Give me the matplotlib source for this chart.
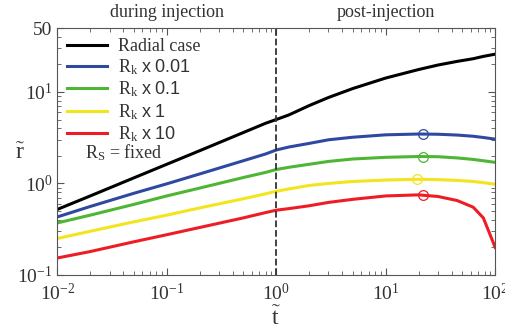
import matplotlib
matplotlib.use('Agg')
import matplotlib.pyplot as plt

# dimensionless time and plume radius
t = [0.01, 0.02, 0.05, 0.1, 0.2, 0.5, 0.8, 1, 1.3, 2, 3, 5, 10, 20, 30, 45, 63, 78, 100]
r_radial = [0.52, 0.73, 1.15, 1.62, 2.28, 3.6, 4.55, 5.0, 5.6, 7.1, 8.7, 10.9, 14.2, 17.6, 19.7, 21.6, 23.1, 24.5, 25.9]
r_k001 = [0.43, 0.56, 0.78, 0.99, 1.27, 1.77, 2.1, 2.32, 2.5, 2.74, 3.0, 3.2, 3.4, 3.47, 3.45, 3.38, 3.28, 3.18, 3.05]
r_k01 = [0.37, 0.45, 0.59, 0.73, 0.89, 1.16, 1.32, 1.42, 1.5, 1.62, 1.74, 1.85, 1.93, 1.97, 1.96, 1.9, 1.83, 1.77, 1.7]
r_k1 = [0.25, 0.30, 0.38, 0.45, 0.54, 0.68, 0.77, 0.82, 0.87, 0.95, 1.0, 1.05, 1.09, 1.11, 1.1, 1.08, 1.05, 1.02, 0.98]
r_k10 = [0.153, 0.18, 0.23, 0.275, 0.33, 0.42, 0.48, 0.51, 0.53, 0.57, 0.62, 0.67, 0.73, 0.75, 0.72, 0.65, 0.55, 0.42, 0.2]

labels = ['Radial case', r'R$_\mathrm{k}$ $\mathsf{x\ 0.01}$', r'R$_\mathrm{k}$ $\mathsf{x\ 0.1}$',
          r'R$_\mathrm{k}$ $\mathsf{x\ 1}$', r'R$_\mathrm{k}$ $\mathsf{x\ 10}$']
colors = ['black', '#3049a0', '#4fb535', '#f2e51e', '#ee1c24']

# circle markers (max plume extent) on the Rk curves
peak_t = [22, 22, 19.5, 22]
peak_r = [3.47, 1.97, 1.11, 0.74]

plt.rcParams['font.family'] = ['Liberation Serif', 'DejaVu Serif']
plt.rcParams['mathtext.fontset'] = 'custom'
plt.rcParams['mathtext.rm'] = 'Liberation Serif'
plt.rcParams['mathtext.it'] = 'Liberation Serif:italic'
plt.rcParams['mathtext.sf'] = 'Liberation Sans'

fig = plt.figure(figsize=(5.05, 3.3), dpi=100)
ax = fig.add_axes([0.1135, 0.167, 0.867, 0.748])

all_r = [r_radial, r_k001, r_k01, r_k1, r_k10]
for rr, lab, c in zip(all_r, labels, colors):
    ax.plot(t, rr, color=c, lw=2.2, label=lab)
for pt, pr, c in zip(peak_t, peak_r, colors[1:]):
    ax.plot(pt, pr, 'o', mfc='none', mec=c, ms=7, mew=0.9)

ax.axvline(1, color='#333333', ls='--', lw=1.3)

ax.set_xscale('log')
ax.set_yscale('log')
ax.set_xlim(1e-2, 1e2)
ax.set_ylim(0.1, 50)
ax.set_yticks([0.1, 1, 10, 50])
ax.set_yticklabels([r'$10^{-1}$', r'$10^{0}$', r'$10^{1}$', '50'])
ax.set_xticks([1e-2, 1e-1, 1, 10, 100])
ax.set_xticklabels([r'$10^{-2}$', r'$10^{-1}$', r'$10^{0}$', r'$10^{1}$', r'$10^{2}$'])
ax.tick_params(which='both', direction='in', top=True, right=True, colors='#555555',
               labelcolor='#333333', labelsize=14)
ax.tick_params(which='major', length=5)
ax.tick_params(which='minor', length=3)
ax.tick_params(axis='x', pad=6)
for s in ax.spines.values():
    s.set_color('#555555')

ax.set_xlabel(r'$\tilde{\mathrm{t}}$', fontsize=17, color='#333333', labelpad=2)
ax.set_ylabel(r'$\tilde{\mathrm{r}}$', fontsize=17, color='#333333', rotation=0, va='center')
ax.yaxis.set_label_coords(-0.085, 0.49)

ax.text(0.1, 1.03, 'during injection', transform=ax.get_xaxis_transform(),
        ha='center', va='bottom', fontsize=13, color='#333333')
ax.text(10, 1.03, 'post-injection', transform=ax.get_xaxis_transform(),
        ha='center', va='bottom', fontsize=13, color='#333333')

ax.legend(loc='upper left', frameon=False, fontsize=13, handlelength=2.2,
          handletextpad=0.6, labelspacing=0.14, borderaxespad=0.15,
          labelcolor='#333333')
ax.text(0.063, 0.494, r'R$_\mathrm{S}$ = fixed', transform=ax.transAxes,
        fontsize=13, color='#333333', va='center')

fig.savefig('out.png', dpi=100)
